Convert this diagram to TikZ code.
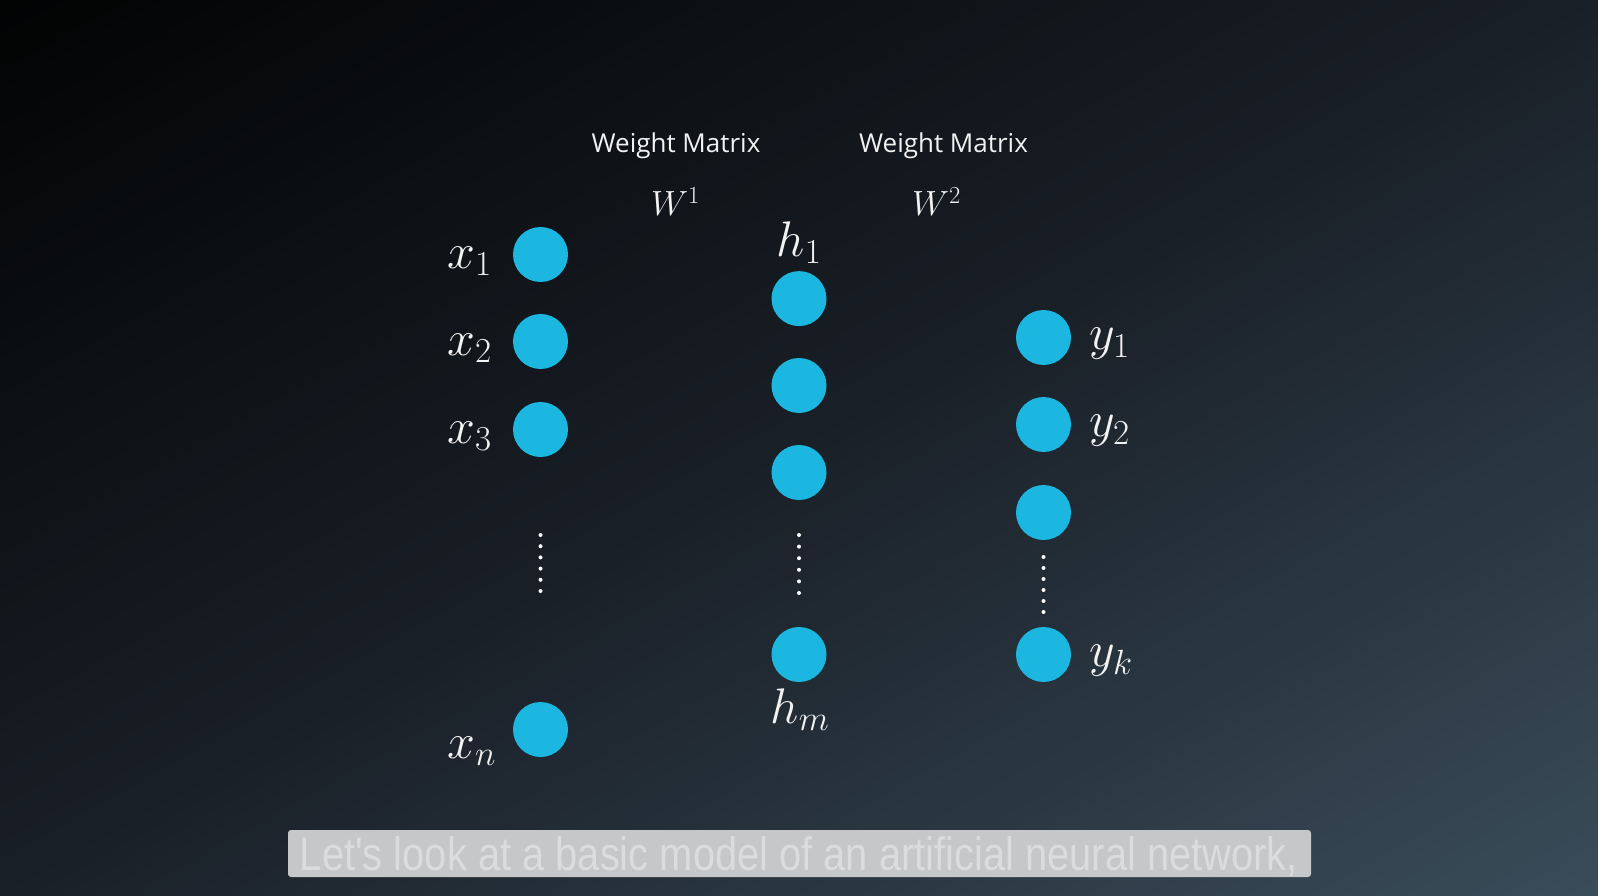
\RequirePackage{fix-cm}
\documentclass[tikz,border=0pt]{standalone}
\usepackage{fontspec}
\usepackage{graphicx}
\newfontfamily\labelfont{Open Sans}
\newfontfamily\capfont{Liberation Sans}
\definecolor{nodeblue}{RGB}{27,183,224}
\definecolor{capbox}{RGB}{197,199,201}
\definecolor{captext}{RGB}{218,220,222}
\definecolor{txt}{RGB}{242,242,242}
\tikzset{
  neuron/.style={circle, fill=nodeblue, minimum size=55pt, inner sep=0pt},
  vdot/.style={circle, fill=white, minimum size=4pt, inner sep=0pt},
  mlabel/.style={text=txt, inner sep=0pt, font=\fontsize{50}{60}\selectfont},
  wlabel/.style={text=txt, inner sep=0pt, font=\fontsize{35}{42}\selectfont},
  hdr/.style={text=txt, inner sep=0pt, font=\labelfont\fontsize{26}{31}\selectfont},
}
\begin{document}
\begin{tikzpicture}[x=1pt,y=-1pt]
\useasboundingbox (0,0) rectangle (1598,896);
% background gradient
\begin{scope}
\clip (0,0) rectangle (1598,896);
\foreach \i in {0,...,99} {
  \pgfmathsetmacro{\tt}{(\i+0.5)/100}
  \pgfmathtruncatemacro{\rr}{\tt<0.5 ? 2+48*\tt : 26+64*(\tt-0.5)}
  \pgfmathtruncatemacro{\gg}{\tt<0.5 ? 3+58*\tt : 32+90*(\tt-0.5)}
  \pgfmathtruncatemacro{\bb}{\tt<0.5 ? 3+74*\tt : 40+100*(\tt-0.5)}
  \definecolor{cur}{RGB}{\rr,\gg,\bb}
  \pgfmathsetmacro{\ca}{\i/100}
  \pgfmathsetmacro{\cb}{(\i+1.6)/100}
  \fill[cur] ({(2*\ca+1)*1598},-896) -- ({(2*\cb+1)*1598},-896)
     -- ({(2*\cb-2)*1598},1792) -- ({(2*\ca-2)*1598},1792) -- cycle;
}
\end{scope}
% headers
\node[hdr, anchor=base] (wm1) at (676,153) {Weight Matrix};
\node[hdr, anchor=base] (wm2) at (943.5,153) {Weight Matrix};
\node[wlabel, anchor=base] (w1) at (675.5,216) {$W^1$};
\node[wlabel, anchor=base] (w2) at (936.5,216) {$W^2$};
% input layer
\node[neuron] (x1) at (540.5,254.5) {};
\node[neuron] (x2) at (540.5,341.5) {};
\node[neuron] (x3) at (540.5,429.5) {};
\node[neuron] (xn) at (540.5,729.5) {};
\node[mlabel, anchor=base west] (lx1) at (447,268) {$x_1$};
\node[mlabel, anchor=base west] (lx2) at (447,355) {$x_2$};
\node[mlabel, anchor=base west] (lx3) at (447,443) {$x_3$};
\node[mlabel, anchor=base west] (lxn) at (447,758) {$x_n$};
% hidden layer
\node[neuron] (h1) at (799,298.6) {};
\node[neuron] (h2) at (799,385.5) {};
\node[neuron] (h3) at (799,472.5) {};
\node[neuron] (hm) at (799,654.5) {};
\node[mlabel, anchor=base] (lh1) at (799,256) {$h_1$};
\node[mlabel, anchor=base] (lhm) at (800,723) {$h_m$};
% output layer
\node[neuron] (y1) at (1043.5,337.5) {};
\node[neuron] (y2) at (1043.5,424.5) {};
\node[neuron] (y3) at (1043.5,512.5) {};
\node[neuron] (yk) at (1043.5,654.5) {};
\node[mlabel, anchor=base west] (ly1) at (1089,349.5) {$y_1$};
\node[mlabel, anchor=base west] (ly2) at (1089,436.5) {$y_2$};
\node[mlabel, anchor=base west] (lyk) at (1089,666.5) {$y_k$};
% vertical dots
\foreach \k in {0,...,5} {
  \node[vdot] (dx\k) at (540.5,{535+11.2*\k}) {};
  \node[vdot] (dh\k) at (799,{535+11.6*\k}) {};
  \node[vdot] (dy\k) at (1043.5,{557+11*\k}) {};
}
% caption
\node[fill=capbox, rounded corners=3pt, minimum width=1023pt, minimum height=47pt, inner sep=0pt] (capbg) at (799.5,853.5) {};
\node[text=captext, inner sep=0pt, anchor=base] (cap) at (799,870)
  {\resizebox{998pt}{34pt}{\capfont Let's look at a basic model of an artificial neural network,}};
\end{tikzpicture}
\end{document}
